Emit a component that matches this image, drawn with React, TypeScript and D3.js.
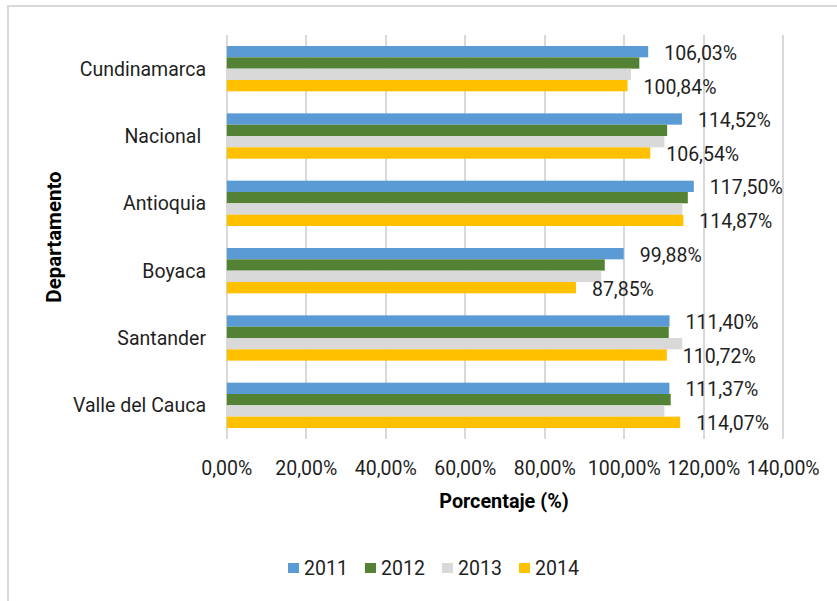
import React from "react";
import * as d3 from "d3";

const categories = ["Cundinamarca", "Nacional ", "Antioquia", "Boyaca", "Santander", "Valle del Cauca"];
const years = ["2011", "2012", "2013", "2014"];
const values2011 = [106.03, 114.52, 117.5, 99.88, 111.4, 111.37];
const values2012 = [103.8, 110.8, 116.0, 95.1, 111.2, 111.7];
const values2013 = [101.7, 110.1, 114.6, 94.2, 114.6, 110.1];
const values2014 = [100.84, 106.54, 114.87, 87.85, 110.72, 114.07];
const xTicks = [0, 20, 40, 60, 80, 100, 120, 140];
const labeledYears = ["2011", "2014"];
const colors = ["#5B9BD5", "#548235", "#D9D9D9", "#FFC000"];

const seriesValues: Record<string, number[]> = {
  "2011": values2011,
  "2012": values2012,
  "2013": values2013,
  "2014": values2014,
};

const W = 837;
const H = 601;
const FONT = "Roboto, 'Open Sans', sans-serif";

const fmt = (v: number) => v.toFixed(2).replace(".", ",") + "%";

export default function App() {
  React.useEffect(() => {
    document.body.style.margin = "0";
  }, []);

  const x = d3.scaleLinear().domain([0, 140]).range([226.8, 783.2]);
  const p = 0.327;
  const y = d3.scaleBand<string>().domain(categories).range([35, 439]).paddingInner(p).paddingOuter(p / 2);
  const ySub = d3.scaleBand<string>().domain(years).range([0, y.bandwidth()]);
  const color = d3.scaleOrdinal<string, string>().domain(years).range(colors);

  const legendX = d3.scalePoint<string>().domain(years).range([288, 519]);

  return (
    <svg width={W} height={H} style={{ display: "block", background: "#fff" }} fontFamily={FONT}>
      <rect x={8} y={6} width={W + 10} height={H + 10} fill="#fff" stroke="#D9D9D9" strokeWidth={2} />
      {xTicks.map((t) => (
        <line key={t} x1={Math.round(x(t))} x2={Math.round(x(t))} y1={35} y2={439} stroke="#D9D9D9" strokeWidth={2} />
      ))}
      {categories.map((c, i) => (
        <g key={c} transform={`translate(0,${y(c)})`}>
          {years.map((yr) => {
            const v = seriesValues[yr][i];
            return (
              <rect
                key={yr}
                x={x(0)}
                y={ySub(yr)}
                width={x(v) - x(0)}
                height={ySub.bandwidth()}
                fill={color(yr)}
              />
            );
          })}
          {labeledYears.map((yr) => {
            const v = seriesValues[yr][i];
            return (
              <text
                key={"l" + yr}
                x={x(v) + 16}
                y={(ySub(yr) as number) + ySub.bandwidth() / 2 + 8}
                fontSize={19.5}
                fill="#1f1f1f"
              >
                {fmt(v)}
              </text>
            );
          })}
          <text
            x={206}
            y={y.bandwidth() / 2 + 7}
            textAnchor="end"
            fontSize={19.5}
            fill="#1f1f1f"
            style={{ whiteSpace: "pre" }}
          >
            {c}
          </text>
        </g>
      ))}
      {xTicks.map((t) => (
        <text key={"t" + t} x={x(t)} y={475} textAnchor="middle" fontSize={19.5} fill="#1f1f1f">
          {fmt(t)}
        </text>
      ))}
      <text x={504} y={508} textAnchor="middle" fontSize={19.8} fontWeight="bold" fill="#000">
        Porcentaje (%)
      </text>
      <text
        transform={`translate(61,237) rotate(-90)`}
        textAnchor="middle"
        fontSize={20.5}
        fontWeight="bold"
        fill="#000"
      >
        Departamento
      </text>
      {years.map((yr) => (
        <g key={"lg" + yr} transform={`translate(${legendX(yr)},0)`}>
          <rect x={0} y={563} width={11} height={10} fill={color(yr)} />
          <text x={16} y={575} fontSize={19.5} fill="#1f1f1f">
            {yr}
          </text>
        </g>
      ))}
    </svg>
  );
}
